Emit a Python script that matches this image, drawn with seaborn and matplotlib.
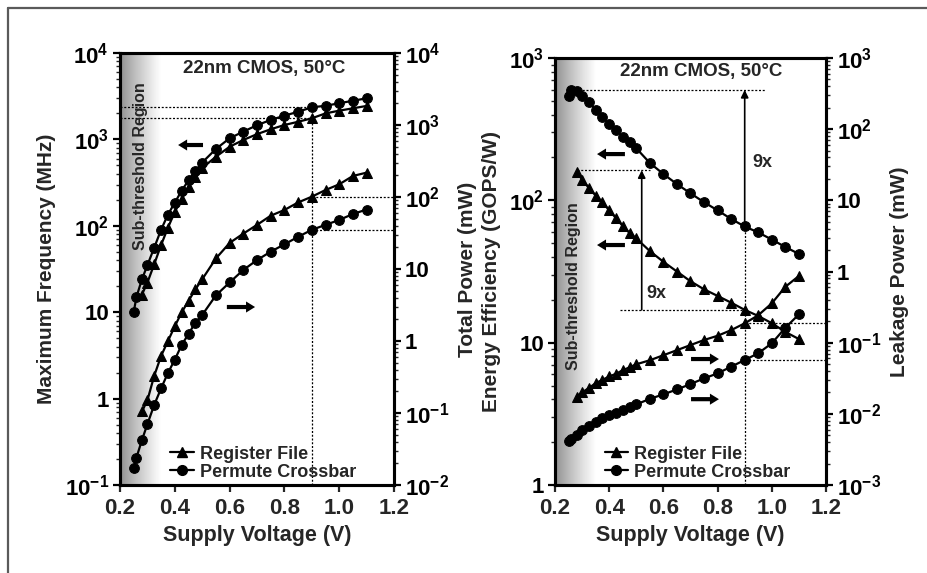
import numpy as np
import pandas as pd
import matplotlib
matplotlib.use("Agg")
import matplotlib.pyplot as plt
import seaborn as sns
from matplotlib.ticker import FuncFormatter, LogLocator, NullFormatter
from matplotlib.lines import Line2D

# ---------------- data ----------------
v_pc = [0.25, 0.26, 0.28, 0.30, 0.325, 0.35, 0.375, 0.40, 0.425, 0.45, 0.475, 0.50,
        0.55, 0.60, 0.65, 0.70, 0.75, 0.80, 0.85, 0.90, 0.95, 1.00, 1.05, 1.10]
v_rf = [0.28, 0.30, 0.325, 0.35, 0.375, 0.40, 0.425, 0.45, 0.475, 0.50,
        0.55, 0.60, 0.65, 0.70, 0.75, 0.80, 0.85, 0.90, 0.95, 1.00, 1.05, 1.10]

freq_pc = [10, 15, 24, 35, 56, 90, 135, 185, 255, 335, 430, 540,
           775, 1030, 1230, 1460, 1680, 1880, 2090, 2350, 2450, 2620, 2800, 2990]
freq_rf = [16, 22, 36, 60, 95, 145, 205, 280, 370, 466,
           630, 822, 985, 1150, 1310, 1468, 1600, 1755, 2000, 2150, 2290, 2440]
power_pc = [0.017, 0.024, 0.042, 0.07, 0.13, 0.22, 0.36, 0.55, 0.88, 1.25, 1.8, 2.3,
            4.3, 6.5, 9.7, 13.3, 17.4, 22, 28, 35, 41, 48, 58, 67]
power_rf = [0.105, 0.15, 0.33, 0.62, 1.0, 1.6, 2.5, 3.6, 5.2, 7.2,
            14, 23, 31, 41, 55, 66, 84, 101, 125, 150, 196, 218]
eff_pc = [545, 597, 585, 540, 490, 432, 385, 345, 312, 280, 255, 232,
          183, 153, 130, 112, 97, 85, 74, 65.5, 59.5, 53, 47, 42]
eff_rf = [158, 140, 122, 108, 97, 85, 75, 66, 59, 54,
          44, 37, 31.6, 27, 23.7, 21.3, 19.1, 17, 15.4, 13.7, 11.9, 10.6]
leak_pc = [0.0042, 0.0045, 0.005, 0.006, 0.0068, 0.0077, 0.0086, 0.0095, 0.0104, 0.0113, 0.0123, 0.0136,
           0.0162, 0.0188, 0.022, 0.0262, 0.0315, 0.037, 0.046, 0.057, 0.071, 0.098, 0.162, 0.25]
leak_rf = [0.0175, 0.02, 0.023, 0.027, 0.030, 0.0335, 0.0365, 0.041, 0.045, 0.0497,
           0.0566, 0.0666, 0.0785, 0.0925, 0.109, 0.125, 0.15, 0.187, 0.243, 0.357, 0.61, 0.865]

x_ticks = [0.2, 0.4, 0.6, 0.8, 1.0, 1.2]
labels_series = ["Register File", "Permute Crossbar"]
title_text = "22nm CMOS, 50°C"
sub_text = "Sub-threshold Region"

# ---------------- style ----------------
sns.set_theme(style="ticks")
plt.rcParams["font.family"] = ["Liberation Sans", "DejaVu Sans"]
plt.rcParams["font.weight"] = "bold"
plt.rcParams["axes.labelweight"] = "bold"
plt.rcParams["mathtext.fontset"] = "custom"
plt.rcParams["mathtext.rm"] = "Liberation Sans:bold"
plt.rcParams["mathtext.bf"] = "Liberation Sans:bold"
plt.rcParams["mathtext.it"] = "Liberation Sans:bold"
plt.rcParams["mathtext.default"] = "bf"

fig = plt.figure(figsize=(9.28, 5.73), dpi=100)
fig.patch.set_facecolor("white")

# outer frame (left and top edges visible)
fig.add_artist(Line2D([8 / 928, 8 / 928], [0, 1 - 8 / 573], transform=fig.transFigure,
                      color="#5a5a5a", lw=1.6))
fig.add_artist(Line2D([8 / 928, 1], [1 - 8 / 573, 1 - 8 / 573], transform=fig.transFigure,
                      color="#5a5a5a", lw=1.6))

axL = fig.add_axes([120 / 928, 88 / 573, 274 / 928, 432 / 573])
axR = fig.add_axes([555 / 928, 88 / 573, 271 / 928, 427 / 573])


def log_fmt(val, pos):
    e = int(round(np.log10(val)))
    if e == 0:
        return "1"
    if e == 1:
        return "10"
    return r"$10^{%d}$" % e


def style_axis(ax, ylo, yhi):
    ax.set_yscale("log")
    ax.set_xlim(0.2, 1.2)
    ax.set_ylim(ylo, yhi)
    ax.yaxis.set_major_locator(LogLocator(base=10, numticks=20))
    ax.yaxis.set_minor_locator(LogLocator(base=10, subs=np.arange(2, 10), numticks=20))
    ax.yaxis.set_major_formatter(FuncFormatter(log_fmt))
    ax.yaxis.set_minor_formatter(NullFormatter())
    for s in ax.spines.values():
        s.set_linewidth(2.2)
        s.set_color("black")
        s.set_visible(True)
    ax.tick_params(axis="y", which="major", direction="out", length=5, width=1.6,
                   labelsize=16, pad=3, colors="black")
    ax.tick_params(axis="y", which="minor", direction="out", length=3, width=1.0)
    ax.grid(False)


def gradient(ax):
    n = 80
    x0, x1 = 0.2, 0.35
    edges = np.linspace(x0, x1, n + 1)
    for i in range(n):
        t = (i + 0.5) / n
        g = 0.55 + 0.45 * (t ** 0.85)
        ax.axvspan(edges[i], edges[i + 1], color=(g, g, g), lw=0, zorder=0)


def series(ax, x, y, marker, ms):
    sns.lineplot(x=x, y=y, ax=ax, color="black", marker=marker, markersize=ms,
                 markeredgecolor="black", markerfacecolor="black", linewidth=1.6,
                 legend=False, estimator=None, sort=False, zorder=5)


dot = dict(color="black", lw=0.9, ls=(0, (1.6, 1.4)), zorder=3)


def thick_arrow(ax, x_from, x_to, y):
    ax.annotate("", xy=(x_to, y), xytext=(x_from, y), xycoords="axes fraction",
                textcoords="axes fraction",
                arrowprops=dict(width=3.0, headwidth=8, headlength=6.5,
                                facecolor="black", edgecolor="black", lw=0, shrink=0))


def style_x(ax):
    ax.set_xticks(x_ticks)
    ax.set_xticklabels([f"{t:.1f}" for t in x_ticks])
    ax.tick_params(axis="x", direction="out", length=5, width=1.6, labelsize=16, pad=4)
    ax.set_xlabel("Supply Voltage (V)", fontsize=15.5, labelpad=5)


# ================= LEFT PANEL =================
gradient(axL)
axL2 = axL.twinx()
series(axL, v_rf, freq_rf, "^", 7.5)
series(axL, v_pc, freq_pc, "o", 7)
series(axL2, v_rf, power_rf, "^", 7.5)
series(axL2, v_pc, power_pc, "o", 7)
style_axis(axL, 0.1, 1e4)
style_axis(axL2, 0.01, 1e4)
axL.tick_params(axis="y", which="both", left=True, right=False)
axL2.tick_params(axis="y", which="both", left=False, right=True, labelleft=False, labelright=True)

i_pc = v_pc.index(0.90)
i_rf = v_rf.index(0.90)
axL.plot([0.2, 0.9], [freq_pc[i_pc], freq_pc[i_pc]], **dot)
axL.plot([0.2, 0.9], [freq_rf[i_rf], freq_rf[i_rf]], **dot)
axL.plot([0.9, 0.9], [0.1, freq_rf[i_rf]], **dot)
axL2.plot([0.9, 1.2], [power_rf[i_rf], power_rf[i_rf]], **dot)
axL2.plot([0.9, 1.2], [power_pc[i_pc], power_pc[i_pc]], **dot)

style_x(axL)
axL.set_ylabel("Maximum Frequency (MHz)", fontsize=15, labelpad=6)
axL2.set_ylabel("Total Power (mW)", fontsize=15, labelpad=6)
axL2.set_xlabel("")

axL.text(0.525, 0.965, title_text, transform=axL.transAxes, ha="center", va="center",
         fontsize=13.5, fontweight="bold", zorder=6)
axL.text(0.073, 0.738, sub_text, transform=axL.transAxes, ha="center", va="center",
         rotation=90, fontsize=11.5, fontweight="bold", zorder=6)
thick_arrow(axL, 0.303, 0.212, 0.787)
thick_arrow(axL, 0.39, 0.493, 0.412)

# ================= RIGHT PANEL =================
gradient(axR)
axR2 = axR.twinx()
series(axR, v_rf, eff_rf, "^", 7.5)
series(axR, v_pc, eff_pc, "o", 7)
series(axR2, v_rf, leak_rf, "^", 7.5)
series(axR2, v_pc, leak_pc, "o", 7)
style_axis(axR, 1, 1e3)
style_axis(axR2, 1e-3, 1e3)
axR.tick_params(axis="y", which="both", left=True, right=False)
axR2.tick_params(axis="y", which="both", left=False, right=True, labelleft=False, labelright=True)

pc_max = max(eff_pc)
rf_max = max(eff_rf)
axR.plot([0.26, 0.975], [pc_max, pc_max], **dot)
axR.plot([0.9, 0.9], [1, eff_pc[i_pc]], **dot)
axR.annotate("", xy=(0.9, pc_max), xytext=(0.9, eff_pc[i_pc]), xycoords="data",
             arrowprops=dict(arrowstyle="-|>", lw=1.2, color="black", mutation_scale=11,
                             shrinkA=0, shrinkB=0), zorder=4)
axR.plot([0.28, 0.55], [rf_max * 1.03, rf_max * 1.03], **dot)
axR.plot([0.44, 0.9], [eff_rf[i_rf], eff_rf[i_rf]], **dot)
axR.annotate("", xy=(0.52, rf_max * 1.03), xytext=(0.52, eff_rf[i_rf]), xycoords="data",
             arrowprops=dict(arrowstyle="-|>", lw=1.2, color="black", mutation_scale=11,
                             shrinkA=0, shrinkB=0), zorder=4)
axR2.plot([0.9, 1.2], [leak_rf[i_rf], leak_rf[i_rf]], **dot)
axR2.plot([0.9, 1.2], [leak_pc[i_pc], leak_pc[i_pc]], **dot)

style_x(axR)
axR.set_ylabel("Energy Efficiency (GOPS/W)", fontsize=15, labelpad=6)
axR2.set_ylabel("Leakage Power (mW)", fontsize=15, labelpad=6)
axR2.set_xlabel("")

axR.text(0.54, 0.968, title_text, transform=axR.transAxes, ha="center", va="center",
         fontsize=13.5, fontweight="bold", zorder=6)
axR.text(0.07, 0.466, sub_text, transform=axR.transAxes, ha="center", va="center",
         rotation=90, fontsize=11.5, fontweight="bold", zorder=6)
axR.text(0.727, 0.756, "9x", transform=axR.transAxes, ha="left", va="center",
         fontsize=13, fontweight="bold", zorder=6)
axR.text(0.338, 0.449, "9x", transform=axR.transAxes, ha="left", va="center",
         fontsize=13, fontweight="bold", zorder=6)
thick_arrow(axR, 0.258, 0.155, 0.775)
thick_arrow(axR, 0.258, 0.155, 0.562)
thick_arrow(axR, 0.502, 0.605, 0.295)
thick_arrow(axR, 0.502, 0.605, 0.201)

# ---------------- legends ----------------
handles = [Line2D([], [], color="black", marker="^", markersize=7.5, lw=1.6, label=labels_series[0]),
           Line2D([], [], color="black", marker="o", markersize=7, lw=1.6, label=labels_series[1])]
for ax, bx in ((axL2, 0.17), (axR2, 0.17)):
    leg = ax.legend(handles=handles, loc="lower left", bbox_to_anchor=(bx, 0.002),
                    frameon=False, fontsize=13, handlelength=1.3, handletextpad=0.35,
                    labelspacing=0.05, borderaxespad=0.0, borderpad=0.2)
    for t in leg.get_texts():
        t.set_fontweight("bold")

fig.savefig("out.png", dpi=100, facecolor="white")
